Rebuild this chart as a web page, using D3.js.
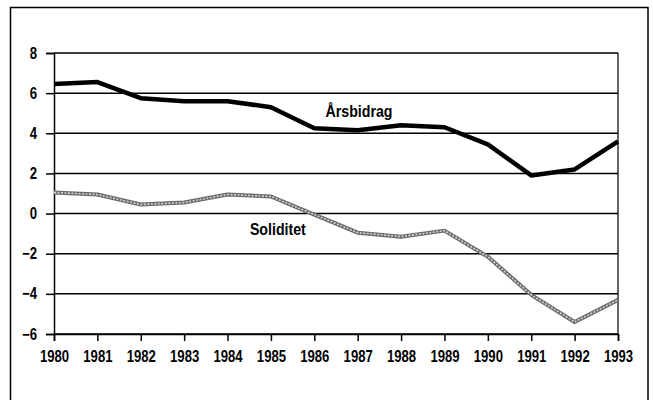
<!DOCTYPE html>
<html><head><meta charset="utf-8">
<script src="https://cdn.jsdelivr.net/npm/d3@7"></script>
<style>
body{margin:0;background:#fff;}
text{font-family:"Liberation Sans",Arial,sans-serif;font-weight:bold;}
</style></head>
<body><svg id="c" width="653" height="400"></svg>
<script>
const years = [1980,1981,1982,1983,1984,1985,1986,1987,1988,1989,1990,1991,1992,1993];
const arsbidrag = [6.45,6.55,5.75,5.6,5.6,5.3,4.25,4.15,4.4,4.3,3.45,1.9,2.2,3.6];
const soliditet = [1.05,0.95,0.45,0.55,0.95,0.85,-0.05,-0.95,-1.15,-0.85,-2.15,-4.05,-5.4,-4.3];
const yTicks = [-6,-4,-2,0,2,4,6,8];

const svg = d3.select("#c");
const L=54, R=618, T=53, B=334;
const x = d3.scaleLinear().domain([1980,1993]).range([L,R]);
const y = d3.scaleLinear().domain([-6,8]).range([B,T]);

// outer frame
svg.append("rect").attr("x",10.5).attr("y",7.5).attr("width",637.5).attr("height",400)
  .attr("fill","none").attr("stroke","#000").attr("stroke-width",1.5);

// gridlines
svg.append("g").selectAll("line").data(yTicks).join("line")
  .attr("x1",L).attr("x2",R).attr("y1",d=>y(d)).attr("y2",d=>y(d))
  .attr("stroke","#000").attr("stroke-width",1.5);

// right border of plot
svg.append("line").attr("x1",R).attr("x2",R).attr("y1",T).attr("y2",B)
  .attr("stroke","#000").attr("stroke-width",1.2);

// y axis
const yAxis = d3.axisLeft(y).tickValues(yTicks).tickSize(8).tickPadding(8).tickFormat(d3.format("d"));
const gy = svg.append("g").attr("transform",`translate(${L},0)`).call(yAxis);
gy.select(".domain").attr("stroke","#000").attr("stroke-width",1.5);
gy.selectAll(".tick line").attr("stroke","#000").attr("stroke-width",1.5);
gy.selectAll("text").attr("font-size",16).attr("fill","#000").attr("x",0)
  .attr("transform","translate(-17,0) scale(0.82,1)")
  .style("font-family",'"Liberation Sans",Arial,sans-serif').style("font-weight","bold");

// x axis
const xAxis = d3.axisBottom(x).tickValues(years).tickSize(7).tickPadding(10).tickFormat(d3.format("d"));
const gx = svg.append("g").attr("transform",`translate(0,${B})`).call(xAxis);
gx.select(".domain").attr("stroke","#000").attr("stroke-width",1.5);
gx.selectAll(".tick line").attr("stroke","#000").attr("stroke-width",1.5);
gx.selectAll("text").attr("font-size",16).attr("fill","#000")
  .attr("transform","scale(0.82,1)")
  .style("font-family",'"Liberation Sans",Arial,sans-serif').style("font-weight","bold");

const line = d3.line().x((d,i)=>x(years[i])).y(d=>y(d));

// Soliditet: grey hatched line
svg.append("path").datum(soliditet).attr("d",line).attr("fill","none")
  .attr("stroke","#6a6a6a").attr("stroke-width",4).attr("stroke-linejoin","round");
svg.append("path").datum(soliditet).attr("d",line).attr("fill","none")
  .attr("stroke","#d4d4d4").attr("stroke-width",1.6).attr("stroke-dasharray","2,1.5").attr("stroke-linejoin","round");

// Årsbidrag: thick black
svg.append("path").datum(arsbidrag).attr("d",line).attr("fill","none")
  .attr("stroke","#000").attr("stroke-width",4.5).attr("stroke-linejoin","round");

// labels
svg.append("g").attr("transform",`translate(${x(1987.03)},${y(4.8)}) scale(0.86,1)`)
  .append("text").attr("text-anchor","middle").attr("font-size",16.5).text("Årsbidrag");
svg.append("g").attr("transform",`translate(${x(1985.16)},${y(-1.05)}) scale(0.86,1)`)
  .append("text").attr("text-anchor","middle").attr("font-size",16.5).text("Soliditet");
</script></body></html>
